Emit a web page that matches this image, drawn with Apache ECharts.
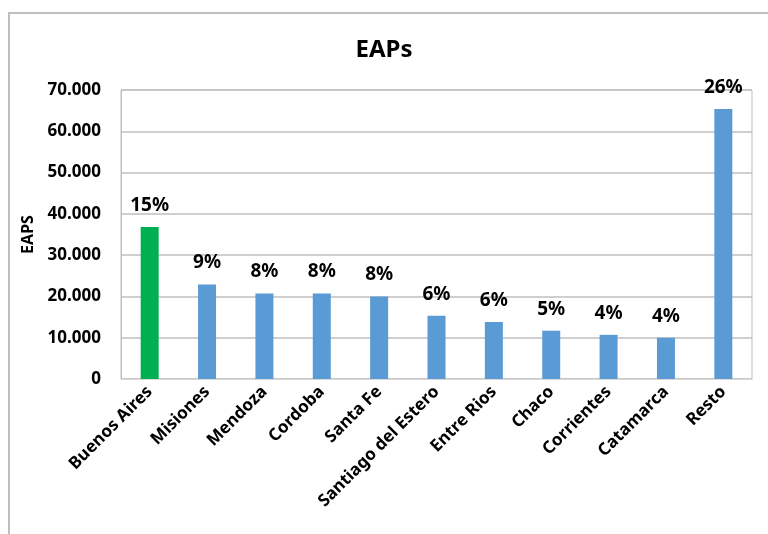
<!DOCTYPE html>
<html>
<head>
<meta charset="utf-8">
<script src="https://cdn.jsdelivr.net/npm/echarts@6/dist/echarts.min.js"></script>
<style>
  html, body { margin: 0; padding: 0; background: #fff; }
  #chart { width: 768px; height: 534px; }
</style>
</head>
<body>
<div id="chart"></div>
<script>
// Explotaciones agropecuarias (EAPs) por provincia
const provincias = ['Buenos Aires', 'Misiones', 'Mendoza', 'Cordoba', 'Santa Fe',
  'Santiago del Estero', 'Entre Rios', 'Chaco', 'Corrientes', 'Catamarca', 'Resto'];
const eaps = [36800, 22900, 20700, 20700, 20000, 15300, 13800, 11700, 10700, 10000, 65400];
const destacada = 'Buenos Aires';

const total = eaps.reduce((a, b) => a + b, 0);
const fontFam = "'Noto Sans', 'DejaVu Sans', sans-serif";

const fmtMiles = v => String(v).replace(/\B(?=(\d{3})+(?!\d))/g, '.');

const chart = echarts.init(document.getElementById('chart'));
chart.setOption({
  animation: false,
  backgroundColor: '#fff',
  title: {
    text: 'EAPs',
    left: 'center',
    top: 33,
    textStyle: { fontFamily: fontFam, fontSize: 24, fontWeight: 'bold', color: '#000' }
  },
  graphic: [{
    type: 'rect',
    shape: { x: 9, y: 13, width: 800, height: 600 },
    style: { fill: 'none', stroke: '#bfbfbf', lineWidth: 2 },
    silent: true
  }],
  grid: {
    left: 121, right: 16, top: 90, bottom: 155,
    show: true, borderColor: '#bfbfbf', borderWidth: 1, backgroundColor: 'transparent'
  },
  xAxis: {
    type: 'category',
    data: provincias,
    axisLine: { lineStyle: { color: '#d9d9d9' } },
    axisTick: { show: false },
    axisLabel: {
      rotate: 45, interval: 0, margin: 10,
      fontFamily: fontFam, fontSize: 17, fontWeight: 'bold', color: '#000'
    }
  },
  yAxis: {
    type: 'value',
    min: 0, max: 70000, interval: 10000,
    name: 'EAPS',
    nameLocation: 'middle',
    nameGap: 80,
    nameTextStyle: { fontFamily: fontFam, fontSize: 16, fontWeight: 'bold', color: '#000' },
    axisLine: { show: true, lineStyle: { color: '#bfbfbf' } },
    axisTick: { show: false },
    splitLine: { lineStyle: { color: '#bfbfbf', width: 1.5 } },
    axisLabel: {
      formatter: fmtMiles, margin: 20,
      fontFamily: fontFam, fontSize: 17, fontWeight: 'bold', color: '#000'
    }
  },
  series: [{
    type: 'bar',
    barWidth: 18,
    data: eaps.map((v, i) => ({
      value: v,
      itemStyle: { color: provincias[i] === destacada ? '#00b050' : '#5b9bd5' }
    })),
    label: {
      show: true,
      position: 'top',
      distance: 12,
      formatter: p => Math.round(p.value / total * 100) + '%',
      fontFamily: fontFam, fontSize: 19, fontWeight: 'bold', color: '#000'
    }
  }]
});
</script>
</body>
</html>
